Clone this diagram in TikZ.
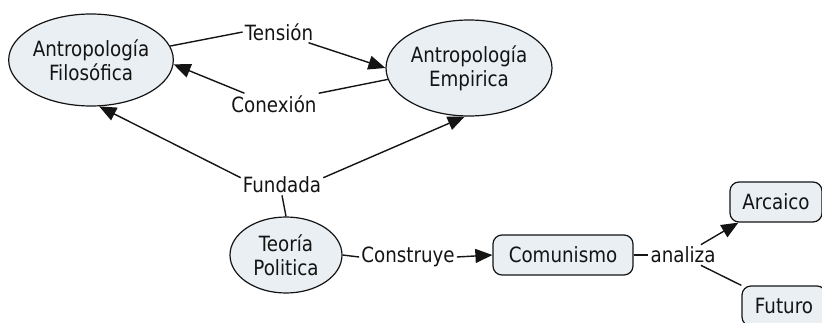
\documentclass[tikz,border=0pt]{standalone}
\usepackage{fontspec}
\setmainfont[FakeStretch=0.87]{DejaVu Sans}
\usetikzlibrary{shapes.geometric,arrows.meta}
\definecolor{nodefill}{RGB}{233,239,243}
\definecolor{inkc}{RGB}{20,20,20}
\begin{document}
\begin{tikzpicture}[x=1pt,y=-1pt,
  every node/.style={font=\fontsize{21}{24}\selectfont, text=inkc},
  ell/.style={ellipse, draw=inkc, line width=1.2pt, fill=nodefill, inner sep=0pt, align=center},
  box/.style={rectangle, rounded corners=9pt, draw=inkc, line width=1.2pt, fill=nodefill, inner sep=0pt, align=center, minimum height=40pt},
  lbl/.style={inner sep=2pt},
  conn/.style={line width=1.4pt, draw=inkc},
  arr/.style={conn, -{Triangle[length=17pt,width=14pt]}}]
\useasboundingbox (0,0) rectangle (822,323);
% concepts
\node[ell, minimum width=164pt, minimum height=92pt] (fil) at (91,60) {Antropología\\Filosófica};
\node[ell, minimum width=166pt, minimum height=96pt] (emp) at (469,68) {Antropología\\Empirica};
\node[ell, minimum width=112pt, minimum height=76pt] (teo) at (286,255) {Teoría\\Politica};
\node[box, minimum width=140pt] (com) at (563,255) {Comunismo};
\node[box, minimum width=92pt] (arc) at (776,202) {Arcaico};
\node[box, minimum width=84pt] (fut) at (784,306) {Futuro};
% linking phrases
\node[lbl] (ten) at (279,32) {Tensión};
\node[lbl] (con) at (274,104) {Conexión};
\node[lbl] (fun) at (282,185) {Fundada};
\node[lbl] (cons) at (408,257) {Construye};
\node[lbl] (ana) at (683,255) {analiza};
% connectors
\draw[conn] (fil.10) -- (ten.west);
\draw[arr] (ten.-20) -- (emp.west);
\draw[conn] (emp.188) -- (con.north east);
\draw[arr] (con.160) -- (fil.-3);
\draw[conn] (teo.north) -- (fun.south);
\draw[arr] (fun.170) -- (fil.-80);
\draw[arr] (fun.10) -- (emp.-95);
\draw[conn] (teo.east) -- (cons.west);
\draw[arr] (cons.east) -- (com.west);
\draw[conn] (com.east) -- (ana.west);
\draw[arr] (ana.30) -- ([xshift=9pt]arc.south west);
\draw[conn] (ana.-30) -- (fut.north west);
\end{tikzpicture}
\end{document}
